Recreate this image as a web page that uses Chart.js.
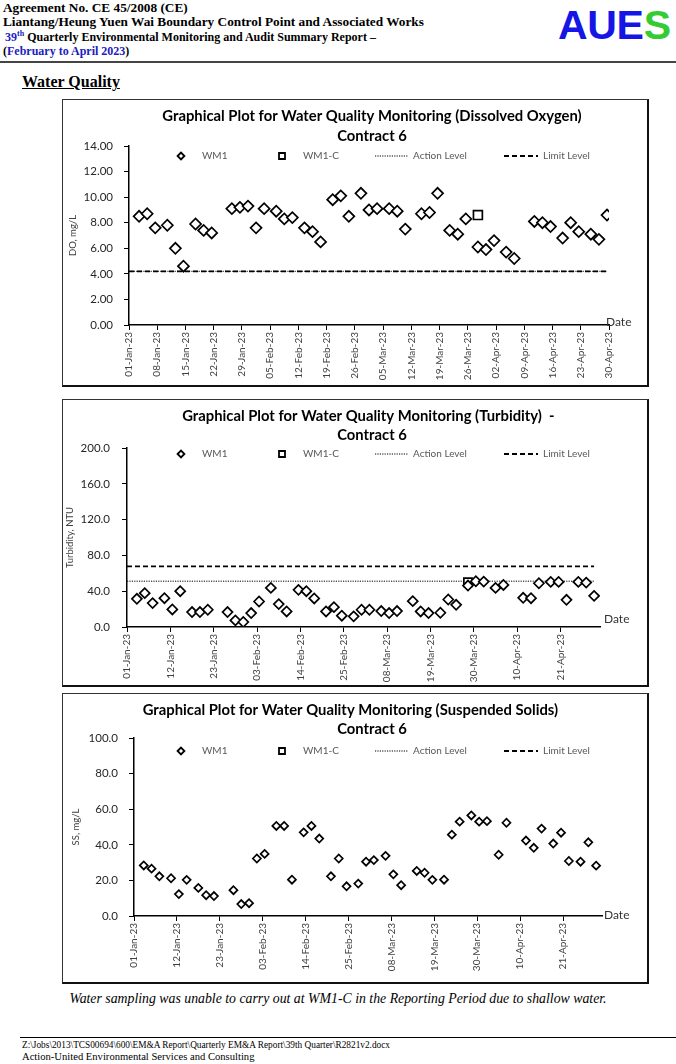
<!DOCTYPE html>
<html>
<head>
<meta charset="utf-8">
<script src="https://cdn.jsdelivr.net/npm/chart.js@4.4.1/dist/chart.umd.min.js"></script>
<style>
html,body{margin:0;padding:0;background:#fff;}
body{width:676px;height:1064px;position:relative;overflow:hidden;font-family:"Liberation Serif","Times New Roman",serif;color:#000;}
.hdr{position:absolute;left:3px;font-weight:bold;font-size:13.3px;line-height:14px;white-space:nowrap;}
.blue{color:#2020C0;}
.logo{position:absolute;left:558px;top:2px;font-family:"Liberation Sans",Arial,sans-serif;font-weight:bold;font-size:41px;line-height:47px;letter-spacing:-0.3px;}
.rule{position:absolute;left:0;top:61px;width:676px;height:2px;background:#444;}
.sec{position:absolute;left:22px;top:73px;font-weight:bold;font-size:16px;text-decoration:underline;}
.cv{position:absolute;left:40px;}
.frame{position:absolute;left:62px;width:584px;border:1px solid #333;border-right:2px solid #111;border-bottom:2px solid #111;pointer-events:none;}
.note{position:absolute;left:0;top:991px;width:676px;text-align:center;font-style:italic;font-size:13.8px;}
.frule{position:absolute;left:20px;top:1037px;width:656px;height:1px;background:#000;}
.f1{position:absolute;left:22px;top:1040px;font-size:9.3px;white-space:nowrap;}
.f2{position:absolute;left:22px;top:1051px;font-size:10.6px;white-space:nowrap;}
</style>
</head>
<body>
<div class="hdr" style="top:1px">Agreement No. CE 45/2008 (CE)</div>
<div class="hdr" style="top:15px">Liantang/Heung Yuen Wai Boundary Control Point and Associated Works</div>
<div class="hdr" style="top:30px;left:5px;font-size:12px"><span class="blue">39<sup style="font-size:8px;line-height:0">th</sup></span> Quarterly Environmental Monitoring and Audit Summary Report –</div>
<div class="hdr" style="top:44px;font-size:12px">(<span class="blue">February to April 2023</span>)</div>
<div class="logo"><span style="color:#1515E6">AUE</span><span style="color:#33CC33">S</span></div>
<div class="rule"></div>
<div class="sec">Water Quality</div>

<canvas id="c1" class="cv" style="top:100px" width="636" height="287"></canvas>
<div class="frame" style="top:99px;height:285px"></div>
<canvas id="c2" class="cv" style="top:400px" width="636" height="287"></canvas>
<div class="frame" style="top:399px;height:285px"></div>
<canvas id="c3" class="cv" style="top:694px" width="636" height="290"></canvas>
<div class="frame" style="top:693px;height:288px"></div>

<div class="note">Water sampling was unable to carry out at WM1-C in the Reporting Period due to shallow water.</div>
<div class="frule"></div>
<div class="f1">Z:\Jobs\2013\TCS00694\600\EM&amp;A Report\Quarterly EM&amp;A Report\39th Quarter\R2821v2.docx</div>
<div class="f2">Action-United Environmental Services and Consulting</div>

<script>
// ---------------- DATA ----------------
const sampleDates = [
  '03-Jan','05-Jan','07-Jan','10-Jan','12-Jan','14-Jan','17-Jan','19-Jan','21-Jan','26-Jan','28-Jan','30-Jan',
  '01-Feb','03-Feb','06-Feb','08-Feb','10-Feb','13-Feb','15-Feb','17-Feb','20-Feb','22-Feb','24-Feb','27-Feb',
  '01-Mar','03-Mar','06-Mar','08-Mar','10-Mar','14-Mar','16-Mar','18-Mar','21-Mar','23-Mar','25-Mar','28-Mar','30-Mar',
  '01-Apr','04-Apr','06-Apr','11-Apr','13-Apr','15-Apr','18-Apr','20-Apr','22-Apr','25-Apr','27-Apr','29-Apr'
];
const sampleTimeOfDay = 0.5; // samples taken around midday

const doWM1 = [
  8.5, 8.7, 7.6, 7.8, 6.0, 4.6, 7.9, 7.4, 7.2, 9.1, 9.2, 9.3,
  7.6, 9.1, 8.9, 8.3, 8.4, 7.6, 7.3, 6.5, 9.8, 10.1, 8.5, 10.3,
  9.0, 9.1, 9.1, 8.9, 7.5, 8.7, 8.8, 10.3, 7.4, 7.1, 8.3, 6.1, 5.9,
  6.6, 5.7, 5.2, 8.1, 8.0, 7.7, 6.8, 8.0, 7.3, 7.1, 6.7, 8.6
];
const doWM1CDates = ['28-Mar'];
const doWM1C = [8.6];
const doActionLevel = 4.2;
const doLimitLevel = 4.2;

const turbWM1 = [
  31.5, 37.8, 26.7, 32.2, 19.6, 40.0, 16.7, 16.7, 19.3, 16.7, 7.4, 5.6,
  15.6, 28.5, 43.7, 25.6, 17.4, 41.5, 40.0, 31.9, 17.4, 22.2, 12.6, 11.9,
  19.3, 19.3, 17.8, 15.6, 17.8, 28.9, 17.4, 15.6, 15.9, 30.7, 24.8, 46.3, 51.1,
  50.7, 43.7, 47.0, 32.6, 32.2, 48.9, 50.4, 50.4, 30.4, 50.4, 49.6, 34.8
];
const turbWM1CDates = ['28-Mar'];
const turbWM1C = [50.0];
const turbActionLevel = 51.2;
const turbLimitLevel = 67.8;

const ssWM1 = [
  28.4, 26.6, 22.3, 21.2, 12.3, 20.3, 15.8, 11.7, 11.2, 14.5, 6.7, 7.2,
  32.3, 34.9, 50.6, 50.6, 20.4, 47.0, 50.6, 43.5, 22.3, 32.3, 16.7, 18.2,
  30.5, 31.4, 33.8, 23.4, 17.3, 25.3, 24.3, 20.3, 20.4, 45.7, 53.0, 56.5, 53.0,
  53.3, 34.4, 52.4, 42.4, 38.3, 49.1, 40.7, 46.8, 30.9, 30.5, 41.4, 28.3
];
const ssWM1CDates = [];
const ssWM1C = [];

const doTickLabels = ['01-Jan-23','08-Jan-23','15-Jan-23','22-Jan-23','29-Jan-23','05-Feb-23','12-Feb-23','19-Feb-23','26-Feb-23',
  '05-Mar-23','12-Mar-23','19-Mar-23','26-Mar-23','02-Apr-23','09-Apr-23','16-Apr-23','23-Apr-23','30-Apr-23'];
const elevenDayTickLabels = ['01-Jan-23','12-Jan-23','23-Jan-23','03-Feb-23','14-Feb-23','25-Feb-23','08-Mar-23',
  '19-Mar-23','30-Mar-23','10-Apr-23','21-Apr-23'];

// ---------------- HELPERS ----------------
const monthStart = {Jan:0, Feb:31, Mar:59, Apr:90, May:120};
function dayOf(s){ const p = s.split('-'); return monthStart[p[1]] + Number(p[0]) - 1; }
function pts(dates, vals){ return dates.map((d,i)=>({x: dayOf(d) + sampleTimeOfDay, y: vals[i]})); }
function levelLine(v){ return [{x: 0, y: v}, {x: dayOf(sampleDates[sampleDates.length-1]) + sampleTimeOfDay, y: v}]; }

const CANVAS_LEFT = 40, CANVAS_W = 636, PAD_L = 36, PAD_R = 8;
const excelLegend = {
  id: 'excelLegend',
  afterDraw(chart, args, o){
    const ctx = chart.ctx;
    ctx.save();
    ctx.textBaseline = 'middle'; ctx.textAlign = 'left';
    chart.data.datasets.forEach((ds, i) => {
      const it = o.items[i]; const y = o.y;
      ctx.strokeStyle = '#000'; ctx.fillStyle = '#fff';
      if (it.kind === 'marker') {
        ctx.lineWidth = 1.8; ctx.setLineDash([]);
        ctx.beginPath();
        const r = 3.4, mx = it.mx - CANVAS_LEFT;
        if (ds.pointStyle === 'rectRot') {
          ctx.moveTo(mx - r, y); ctx.lineTo(mx, y - r); ctx.lineTo(mx + r, y); ctx.lineTo(mx, y + r); ctx.closePath();
        } else {
          ctx.rect(mx - 3, y - 3, 6, 6);
        }
        ctx.fill(); ctx.stroke();
      } else {
        ctx.lineWidth = ds.borderWidth; ctx.setLineDash(ds.borderDash || []);
        ctx.beginPath(); ctx.moveTo(it.x1 - CANVAS_LEFT, y); ctx.lineTo(it.x2 - CANVAS_LEFT, y); ctx.stroke();
      }
      ctx.setLineDash([]);
      ctx.font = '10px Lato'; ctx.fillStyle = '#595959';
      ctx.fillText(ds.label, it.tx - CANVAS_LEFT, y);
    });
    const a = chart.chartArea;
    ctx.font = '12px Lato'; ctx.fillStyle = '#333';
    ctx.fillText('Date', a.right + o.dateDx, a.bottom + o.dateDy);
    ctx.restore();
  }
};

// legend positions in page pixels
const legendItems = [
  {kind:'marker', mx:181, tx:202},
  {kind:'marker', mx:282, tx:303},
  {kind:'line', x1:375, x2:408, tx:413},
  {kind:'line', x1:504, x2:538, tx:543}
];

function makeChart(id, cfg){
  const tickVals = cfg.tickLabels.map(dayOf);
  return new Chart(document.getElementById(id), {
    type: 'scatter',
    data: {
      datasets: [
        {label:'WM1', data: pts(sampleDates, cfg.wm1), pointStyle:'rectRot', pointRadius: cfg.r, pointHoverRadius: cfg.r,
          borderColor:'#000', backgroundColor:'#fff', pointBorderWidth: cfg.bw, borderWidth: cfg.bw},
        {label:'WM1-C', data: pts(cfg.wm1cDates, cfg.wm1c), pointStyle:'rect', pointRadius: cfg.r + 0.8, pointHoverRadius: cfg.r,
          borderColor:'#000', backgroundColor:'#fff', pointBorderWidth: cfg.bw, borderWidth: cfg.bw},
        {label:'Action Level', data: cfg.action == null ? [] : levelLine(cfg.action), showLine:true, pointRadius:0,
          borderColor:'#000', borderWidth:1, borderDash:[1.2,1.2]},
        {label:'Limit Level', data: cfg.limit == null ? [] : levelLine(cfg.limit), showLine:true, pointRadius:0,
          borderColor:'#000', borderWidth:1.8, borderDash:[5,3]}
      ]
    },
    plugins: [excelLegend],
    options: {
      responsive:false, animation:false, events:[],
      layout:{padding:{left: PAD_L, right: PAD_R, top:0, bottom:0}},
      plugins:{
        legend:{display:false}, tooltip:{enabled:false},
        title:{display:true, text: cfg.title, color:'#000',
          font:{family:'Lato', size:14.8, weight:'bold', lineHeight: cfg.titleLH}, padding: cfg.titlePad},
        excelLegend:{items: legendItems, y: cfg.legendY, dateDx: cfg.dateDx, dateDy: cfg.dateDy}
      },
      scales:{
        x:{type:'linear', min:0, max: cfg.xMax,
          afterBuildTicks: s => { s.ticks = tickVals.map(v => ({value: v})); },
          afterFit: s => { s.height = cfg.xH; },
          ticks:{autoSkip:false, minRotation:90, maxRotation:90, padding:2, color:'#404040',
            font:{family:'Lato', size:10}, callback:(v, i) => cfg.tickLabels[i]},
          grid:{display:true, drawOnChartArea:false, drawTicks:true, tickLength:5, color:'#000'},
          border:{display:true, color:'#000', width:1.5}
        },
        y:{type:'linear', position:'left', min:0, max: cfg.yMax,
          afterFit: s => { s.width = cfg.axisX - CANVAS_LEFT - PAD_L; },
          ticks:{autoSkip:false, stepSize: cfg.yStep, padding: cfg.axisX - 5 - cfg.labelRight, color:'#262626', font:{family:'Lato', size:11.5},
            callback: v => v.toFixed(cfg.yDec)},
          grid:{display:true, drawOnChartArea:false, drawTicks:true, tickLength:5, color:'#000'},
          border:{display:true, color:'#000', width:1.5},
          title:{display:true, text: cfg.yTitle, color:'#404040', font:{family:'Lato', size:9.5},
            padding:{top: cfg.yTitleX - (CANVAS_LEFT + PAD_L) - 5.7, bottom:0}}
        },
        yr:{type:'linear', position:'right', display:true,
          afterFit: s => { s.width = CANVAS_W - PAD_R - (cfg.axisEnd - CANVAS_LEFT); },
          ticks:{display:false}, grid:{display:false, drawTicks:false}, border:{display:false}}
      }
    }
  });
}

makeChart('c1', {
  title:['Graphical Plot for Water Quality Monitoring (Dissolved Oxygen)','Contract 6'],
  titleLH: 20/14.8, titlePad:{top:6, bottom:0},
  wm1: doWM1, wm1cDates: doWM1CDates, wm1c: doWM1C, action: doActionLevel, limit: doLimitLevel,
  tickLabels: doTickLabels, xMax: 119, xH: 62, yMax: 14, yStep: 2, yDec: 2,
  axisX: 129, axisEnd: 609, labelRight: 113, yTitleX: 73,
  yTitle:'DO, mg/L', r: 5.5, bw: 1.7, legendY: 56, dateDx: -3, dateDy: -3
});
makeChart('c2', {
  title:['Graphical Plot for Water Quality Monitoring (Turbidity)  -  ','Contract 6'],
  titleLH: 19/14.8, titlePad:{top:6.5, bottom:3.5},
  wm1: turbWM1, wm1cDates: turbWM1CDates, wm1c: turbWM1C, action: turbActionLevel, limit: turbLimitLevel,
  tickLabels: elevenDayTickLabels, xMax: 120, xH: 60, yMax: 200, yStep: 40, yDec: 1,
  axisX: 127, axisEnd: 600, labelRight: 110, yTitleX: 70,
  yTitle:'Turbidity, NTU', r: 5, bw: 1.7, legendY: 54, dateDx: 4, dateDy: -8
});
makeChart('c3', {
  title:['Graphical Plot for Water Quality Monitoring (Suspended Solids)            ','Contract 6'],
  titleLH: 18.5/14.8, titlePad:{top:7, bottom:0},
  wm1: ssWM1, wm1cDates: ssWM1CDates, wm1c: ssWM1C, action: null, limit: null,
  tickLabels: elevenDayTickLabels, xMax: 120, xH: 68, yMax: 100, yStep: 20, yDec: 1,
  axisX: 134, axisEnd: 602, labelRight: 118, yTitleX: 76,
  yTitle:'SS, mg/L', r: 4, bw: 1.7, legendY: 57, dateDx: 2, dateDy: -1
});
</script>
</body>
</html>
